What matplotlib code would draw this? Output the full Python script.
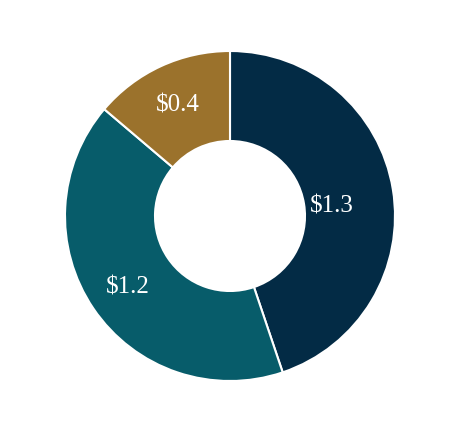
import matplotlib
matplotlib.use("Agg")
import matplotlib.pyplot as plt
import numpy as np

labels = ["$1.3", "$1.2", "$0.4"]
values = [1.3, 1.2, 0.4]
colors = ["#032B45", "#075C6A", "#9B722C"]

fig = plt.figure(figsize=(4.58, 4.30), dpi=100)
ax = fig.add_axes([0, 0, 1, 1])
R = 1.65
cx, cy = 2.30, 2.14
wedges, _ = ax.pie(values, colors=colors, startangle=90, counterclock=False,
                   radius=R, center=(cx, cy),
                   wedgeprops=dict(width=0.90, edgecolor="white", linewidth=1.5))
dists = [1.03, 1.24, 1.24]
nudge = [-0.07, -0.02, -0.02]
for w, lab, d, n in zip(wedges, labels, dists, nudge):
    ang = np.deg2rad((w.theta1 + w.theta2) / 2)
    ax.text(cx + d * np.cos(ang), cy + d * np.sin(ang) + n, lab,
            ha="center", va="center", color="white", fontsize=18,
            family="Liberation Serif")
ax.set_xlim(0, 4.58)
ax.set_ylim(0, 4.30)
ax.set_aspect("equal")
ax.axis("off")
fig.savefig("out.png", dpi=100)
